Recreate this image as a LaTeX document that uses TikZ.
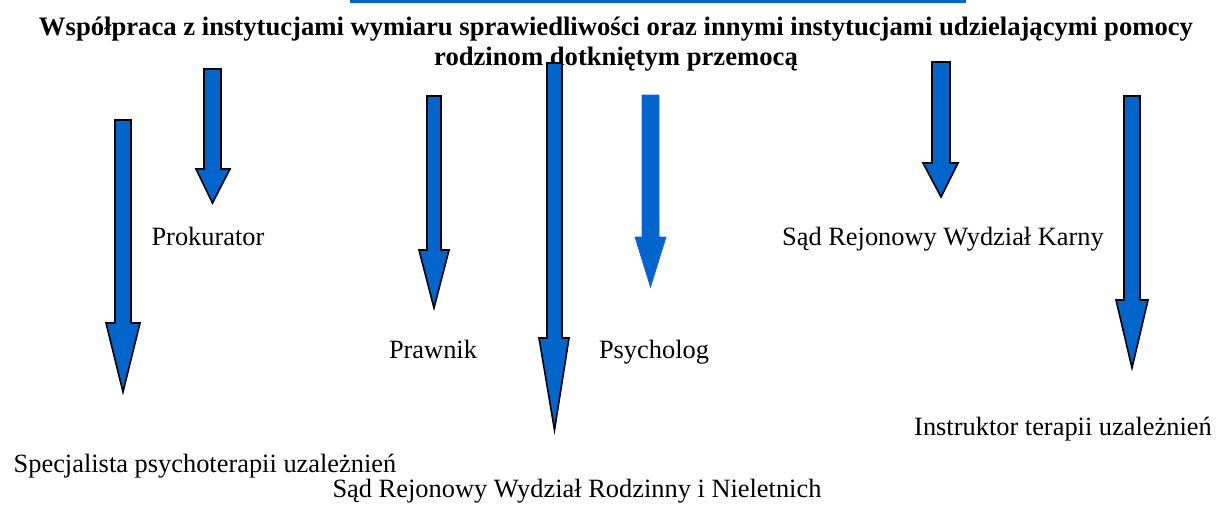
\documentclass[tikz,border=0pt]{standalone}
\usepackage{fontspec}
\setmainfont{Liberation Serif}
\definecolor{arrblue}{HTML}{0066CC}
\definecolor{edgeblue}{HTML}{1F5CFF}
\newcommand\blockarrow[8]{%
  \draw[#1] (#2,#4) -- (#3,#4) -- (#3,#5) -- (#7,#5) -- ({(#2+#3)/2},#8)
    -- (#6,#5) -- (#2,#5) -- cycle;}
\begin{document}
\begin{tikzpicture}[x=1pt,y=-1pt,
  lbl/.style={font=\rmfamily\fontsize{26.4}{30}\selectfont, inner sep=0pt, anchor=base},
  ttl/.style={font=\rmfamily\fontsize{26.65}{30}\selectfont\bfseries, inner sep=0pt, anchor=base},
  blk/.style={fill=arrblue, draw=black, line width=1.6pt, line join=miter},
  blkb/.style={fill=arrblue, draw=edgeblue, line width=0.8pt, line join=miter}]
\useasboundingbox (0,0) rectangle (1220,511);
\fill[arrblue] (350,0) rectangle (966,3);
\node[ttl] (title1) at (616,36) {Współpraca z instytucjami wymiaru sprawiedliwości oraz innymi instytucjami udzielającymi pomocy};
\node[ttl] (title2) at (616,66) {rodzinom dotkniętym przemocą};
\node[lbl] (prok) at (208,245) {Prokurator};
\node[lbl] (karny) at (943,245) {Sąd Rejonowy Wydział Karny};
\node[lbl] (prawnik) at (433,358) {Prawnik};
\node[lbl] (psych) at (654,358) {Psycholog};
\node[lbl] (instr) at (1063,435) {Instruktor terapii uzależnień};
\node[lbl] (spec) at (205,472) {Specjalista psychoterapii uzależnień};
\node[lbl] (rodz) at (577,497) {Sąd Rejonowy Wydział Rodzinny i Nieletnich};
\blockarrow{blk}{115}{131}{120}{323}{106}{140}{392}
\blockarrow{blk}{204}{221}{69}{169}{196}{230}{203}
\blockarrow{blk}{427}{441}{96}{250}{419}{449}{308}
\blockarrow{blk}{547}{562}{63}{338}{539}{569}{430}
\blockarrow{blkb}{642}{659}{95}{237}{635}{666}{287}
\blockarrow{blk}{932}{950}{62}{163}{923}{958}{197}
\blockarrow{blk}{1124}{1140}{96}{300}{1116}{1148}{368}
\end{tikzpicture}
\end{document}
